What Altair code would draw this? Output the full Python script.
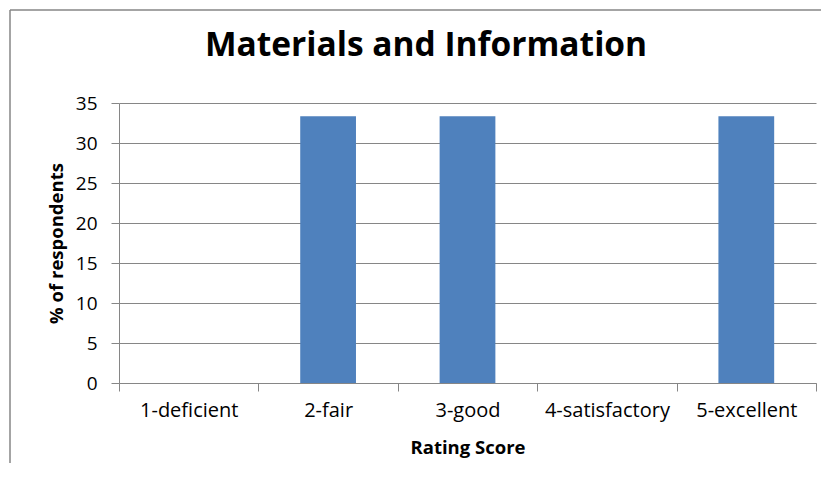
import altair as alt
import pandas as pd

categories = ["1-deficient", "2-fair", "3-good", "4-satisfactory", "5-excellent"]
values = [0, 33.33, 33.33, 0, 33.33]
y_ticks = [0, 5, 10, 15, 20, 25, 30, 35]
title_text = "Materials and Information"

df = pd.DataFrame({"cat": categories, "pct": values})

FONT = "Open Sans"
GRAY = "#868686"

bars = alt.Chart(df).mark_bar(
    color="#4F81BD", width=alt.RelativeBandSize(0.4)
).encode(
    x=alt.X("cat:N", sort=categories,
            scale=alt.Scale(paddingInner=0, paddingOuter=0),
            axis=alt.Axis(title="Rating Score", labelAngle=0, tickBand="extent",
                          tickSize=8, labelPadding=9, labelFontSize=20,
                          titleFontSize=18.5, titleFontWeight="bold",
                          titleY=70, titleBaseline="alphabetic",
                          domainColor=GRAY, tickColor=GRAY, grid=False)),
    y=alt.Y("pct:Q", scale=alt.Scale(domain=[0, 35], nice=False),
            axis=alt.Axis(title="% of respondents", values=y_ticks, tickSize=8,
                          labelPadding=14, labelFontSize=19,
                          titleFontSize=18.5, titleFontWeight="bold",
                          titleX=-57, titleY=140, titleAngle=-90,
                          titleBaseline="alphabetic",
                          domainColor=GRAY, tickColor=GRAY,
                          grid=True, gridColor=GRAY)),
)

frame_data = alt.Data(values=[{}])
left_border = alt.Chart(frame_data).mark_rule(color=GRAY, strokeWidth=1.5).encode(
    x=alt.value(-109), y=alt.value(-93), y2=alt.value(400))
top_border = alt.Chart(frame_data).mark_rule(color=GRAY, strokeWidth=1.5).encode(
    x=alt.value(-109), x2=alt.value(720), y=alt.value(-93))

title = alt.Chart(alt.Data(values=[{"t": title_text}])).mark_text(
    font=FONT, fontSize=33.5, fontWeight="bold", color="black",
    align="center", baseline="alphabetic"
).encode(text="t:N", x=alt.value(307), y=alt.value(-47))

chart = alt.layer(bars, left_border, top_border, title).properties(
    width=697, height=280,
    background="white",
    autosize=alt.AutoSizeParams(type="none"),
    padding={"left": 111, "top": 95, "right": 5, "bottom": 80},
).configure_view(stroke=None).configure_axis(
    labelFont=FONT, titleFont=FONT, labelColor="black", titleColor="black"
)

chart.save("out.html", embed_options={"renderer": "svg", "actions": False})
